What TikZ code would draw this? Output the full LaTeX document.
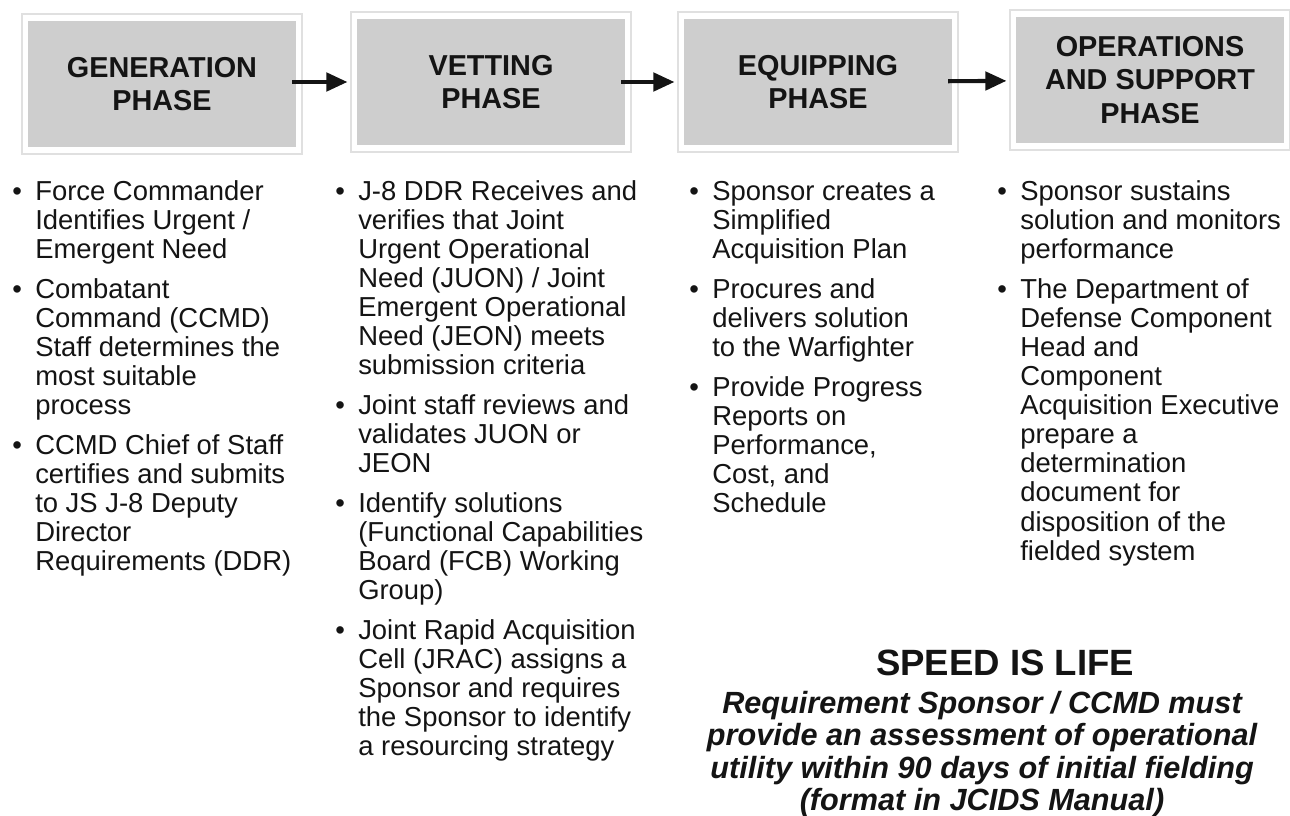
\documentclass[tikz,border=0pt]{standalone}
\usepackage{fontspec}
\setmainfont{Liberation Sans}
\usetikzlibrary{arrows.meta}
\definecolor{boxgray}{RGB}{206,206,206}
\definecolor{ink}{RGB}{20,20,20}
\newcommand\itm{\leavevmode\strut\llap{\textbullet\hspace{9.5pt}}}
\tikzset{
  phase/.style={fill=boxgray, draw=white, line width=3.6pt, outer sep=0pt,
    preaction={draw=black!12, line width=6.5pt},
    minimum width=6.825cm, minimum height=3.3cm, align=center, text=ink,
    font=\bfseries\fontsize{20.5}{24}\selectfont},
  steps/.style={anchor=north west, inner sep=0pt, align=left, text=ink,
    font=\fontsize{19.5}{20.7}\selectfont},
  flow/.style={-{Triangle[length=15pt,width=13pt]}, line width=2.9pt, draw=ink,
    shorten <=-4.6pt, shorten >=5pt}
}
\begin{document}
\begin{tikzpicture}[x=0.025cm,y=-0.025cm]
\useasboundingbox (0,0) rectangle (1290,816);
% phases
\node[phase] (gen) at (162,84) {GENERATION\\PHASE};
\node[phase] (vet) at (491,82) {VETTING\\PHASE};
\node[phase] (equ) at (818,82) {EQUIPPING\\PHASE};
\node[phase] (ops) at (1150,80) {OPERATIONS\\AND SUPPORT\\PHASE};
\draw[flow] (gen.east |- vet) -- (vet);
\draw[flow] (vet) -- (equ);
\draw[flow] (equ) -- (ops);
% what happens in each phase (top of first line = baseline 200 - strut)
\node[steps] (gentxt) at (35,179.6) {\itm Force Commander\\ Identifies Urgent /\\ Emergent Need\\[7.5pt]
  \itm Combatant\\ Command (CCMD)\\ Staff determines the\\ most suitable\\ process\\[7.5pt]
  \itm CCMD Chief of Staff\\ certifies and submits\\ to JS J-8 Deputy\\ Director\\ Requirements (DDR)};
\node[steps] (vettxt) at (358,179.6) {\itm J-8 DDR Receives and\\ verifies that Joint\\ Urgent Operational\\
  Need (JUON) / Joint\\ Emergent Operational\\ Need (JEON) meets\\ submission criteria\\[7.5pt]
  \itm Joint staff reviews and\\ validates JUON or\\ JEON\\[7.5pt]
  \itm Identify solutions\\ (Functional Capabilities\\ Board (FCB) Working\\ Group)\\[7.5pt]
  \itm Joint Rapid Acquisition\\ Cell (JRAC) assigns a\\ Sponsor and requires\\ the Sponsor to identify\\ a resourcing strategy};
\node[steps] (equtxt) at (712,179.6) {\itm Sponsor creates a\\ Simplified\\ Acquisition Plan\\[7.5pt]
  \itm Procures and\\ delivers solution\\ to the Warfighter\\[7.5pt]
  \itm Provide Progress\\ Reports on\\ Performance,\\ Cost, and\\ Schedule};
\node[steps] (opstxt) at (1020,179.6) {\itm Sponsor sustains\\ solution and monitors\\ performance\\[7.5pt]
  \itm The Department of\\ Defense Component\\ Head and\\ Component\\ Acquisition Executive\\
  prepare a\\ determination\\ document for\\ disposition of the\\ fielded system};
% bottom note
\node[anchor=base, text=ink, font=\bfseries\fontsize{26}{30}\selectfont] (speed) at (1005,675) {SPEED IS LIFE};
\node[anchor=north, align=center, inner sep=0pt, text=ink, font=\bfseries\itshape\fontsize{21.8}{23.2}\selectfont]
  (note) at (982,690) {\strut Requirement Sponsor / CCMD must\\ provide an assessment of operational\\
  utility within 90 days of initial fielding\\ (format in JCIDS Manual)};
\end{tikzpicture}
\end{document}
